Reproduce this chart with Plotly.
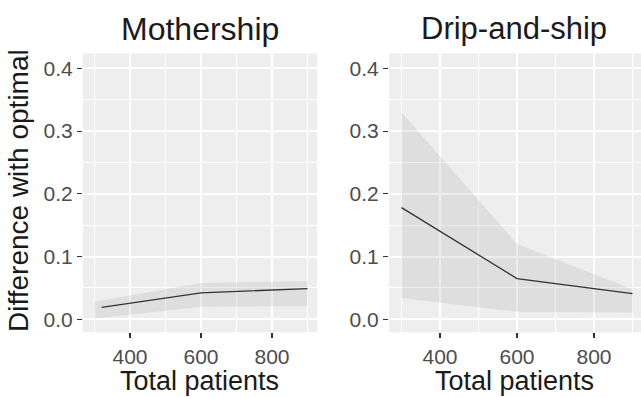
import plotly.graph_objects as go

# ---- data ----
panels = ["Mothership", "Drip-and-ship"]
x_label = "Total patients"
y_label = "Difference with optimal"

ms_line_x = [320, 600, 900]
ms_line_y = [0.019, 0.042, 0.049]
ms_band_x = [300, 600, 900]
ms_lower = [0.001, 0.020, 0.021]
ms_upper = [0.028, 0.058, 0.061]

ds_line_x = [300, 600, 900]
ds_line_y = [0.178, 0.065, 0.041]
ds_band_x = [300, 600, 900]
ds_lower = [0.034, 0.012, 0.011]
ds_upper = [0.330, 0.120, 0.048]

x_ticks = [400, 600, 800]
y_ticks = [0.0, 0.1, 0.2, 0.3, 0.4]

W, H = 641, 397
FONT = "Liberation Sans, Arial, sans-serif"
PANEL_BG = "#EEEEEE"
RIBBON = "rgba(150,150,150,0.18)"
LINE = "#333333"


def fx(px):
    return px / W


def fy(py):
    return 1 - py / H


fig = go.Figure()


def add_panel(bx, lo, hi, lx, ly, xa, ya):
    fig.add_trace(go.Scatter(x=bx, y=lo, mode="lines", line=dict(width=0),
                             xaxis=xa, yaxis=ya, showlegend=False, hoverinfo="skip"))
    fig.add_trace(go.Scatter(x=bx, y=hi, mode="lines", line=dict(width=0),
                             fill="tonexty", fillcolor=RIBBON,
                             xaxis=xa, yaxis=ya, showlegend=False, hoverinfo="skip"))
    fig.add_trace(go.Scatter(x=lx, y=ly, mode="lines", line=dict(color=LINE, width=1.3),
                             xaxis=xa, yaxis=ya, showlegend=False))


add_panel(ms_band_x, ms_lower, ms_upper, ms_line_x, ms_line_y, "x", "y")
add_panel(ds_band_x, ds_lower, ds_upper, ds_line_x, ds_line_y, "x2", "y2")

ydom = [fy(332.3), fy(53.3)]
yrange = [-0.0207, 0.424]


def xaxis(domain, rng, anchor):
    return dict(domain=domain, range=rng, anchor=anchor, tickvals=x_ticks,
                ticks="outside", ticklen=5, tickwidth=1.2, tickcolor="#333333",
                showgrid=True, gridcolor="white", gridwidth=2,
                minor=dict(dtick=100, tick0=0, showgrid=True, gridcolor="white", gridwidth=1, ticks=""),
                zeroline=False, showline=False,
                tickfont=dict(family=FONT, size=21, color="#4D4D4D"))


def yaxis(anchor):
    return dict(domain=ydom, range=yrange, anchor=anchor, tickvals=y_ticks,
                tickformat=".1f",
                ticks="outside", ticklen=5, tickwidth=1.2, tickcolor="#333333",
                showgrid=True, gridcolor="white", gridwidth=2,
                minor=dict(dtick=0.05, tick0=0, showgrid=True, gridcolor="white", gridwidth=1, ticks=""),
                zeroline=False, showline=False,
                tickfont=dict(family=FONT, size=21, color="#4D4D4D"))


fig.update_layout(
    width=W, height=H, autosize=False,
    margin=dict(l=0, r=0, t=0, b=0),
    paper_bgcolor="white", plot_bgcolor=PANEL_BG,
    xaxis=xaxis([fx(83), fx(317)], [267.6, 926.8], "y"),
    yaxis=yaxis("x"),
    xaxis2=xaxis([fx(389), 1.0], [267.5, 922], "y2"),
    yaxis2=yaxis("x2"),
    font=dict(family=FONT),
    hovermode=False,
)


def ann(text, x, y, size, angle=0):
    fig.add_annotation(text=text, x=fx(x), y=fy(y), xref="paper", yref="paper",
                       showarrow=False, xanchor="center", yanchor="middle",
                       textangle=angle, font=dict(family=FONT, size=size, color="#1A1A1A"))


ann(panels[0], 200, 29, 32)
ann(panels[1], 514, 29, 31)
ann(x_label, 199, 381, 27)
ann(x_label, 514, 381, 27)
ann(y_label, 19, 191, 28, -90)

fig.write_html("out.html", config={"displayModeBar": False, "staticPlot": True},
               post_script="document.body.style.margin='0px';")
